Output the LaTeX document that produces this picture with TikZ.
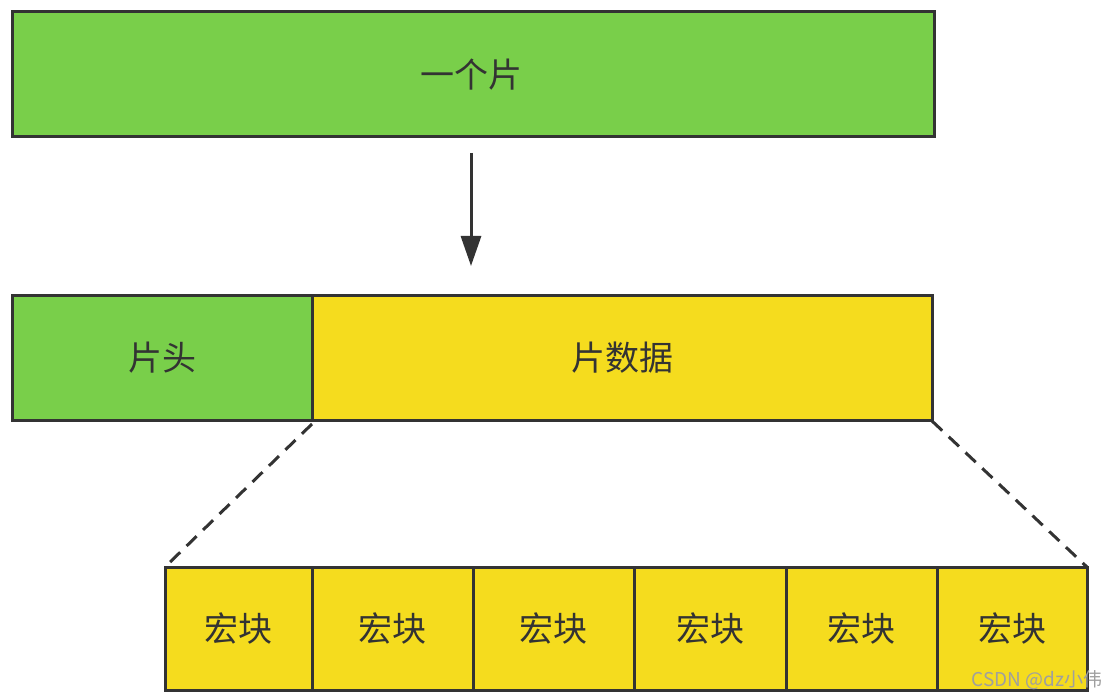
\documentclass[tikz,border=0pt]{standalone}
\usepackage{fontspec}
\newfontfamily\cjk{Noto Sans CJK SC}
\usetikzlibrary{arrows.meta}
\definecolor{gr}{HTML}{79CF4A}
\definecolor{ye}{HTML}{F5DC1E}
\definecolor{ln}{HTML}{333333}
\tikzset{box/.style={draw=ln,line width=3pt},
 lbl/.style={font=\cjk\fontsize{34}{38}\selectfont,text=ln}}
\begin{document}
\begin{tikzpicture}[x=1pt,y=-1pt]
\useasboundingbox (0,0) rectangle (1109,700);
\draw[box,fill=gr] (12,12) rectangle (934,137);
\node[lbl] (top) at (471,75) {一个片};
\coordinate (a1) at (471,153);
\coordinate (a2) at (471,266);
\draw[ln,line width=3pt,-{Triangle[length=30pt,width=20pt]}] (a1) -- (a2);
\draw[box,fill=gr] (12,296) rectangle (312,421);
\draw[box,fill=ye] (312,296) rectangle (932,421);
\node[lbl] (h) at (162,358) {片头};
\node[lbl] (d) at (622,358) {片数据};
\coordinate (d1) at (312,424);
\coordinate (d2) at (932,421);
\coordinate (b1) at (165,567);
\coordinate (b2) at (1087,567);
\draw[ln,line width=3pt,dash pattern=on 14pt off 9pt] (d1) -- (b1);
\draw[ln,line width=3pt,dash pattern=on 14pt off 9pt] (d2) -- (b2);
\foreach \l/\r [count=\i] in {165/312,312/473,473/634,634/786,786/937,937/1087}{
  \draw[box,fill=ye] (\l,567) rectangle (\r,690);
  \node[lbl] (m\i) at ({(\l+\r)/2},628) {宏块};
}
\node[font=\cjk\fontsize{19}{22}\selectfont,text=gray!75,anchor=east] (wm) at (1106,680) {CSDN @dz小伟};
\end{tikzpicture}
\end{document}
